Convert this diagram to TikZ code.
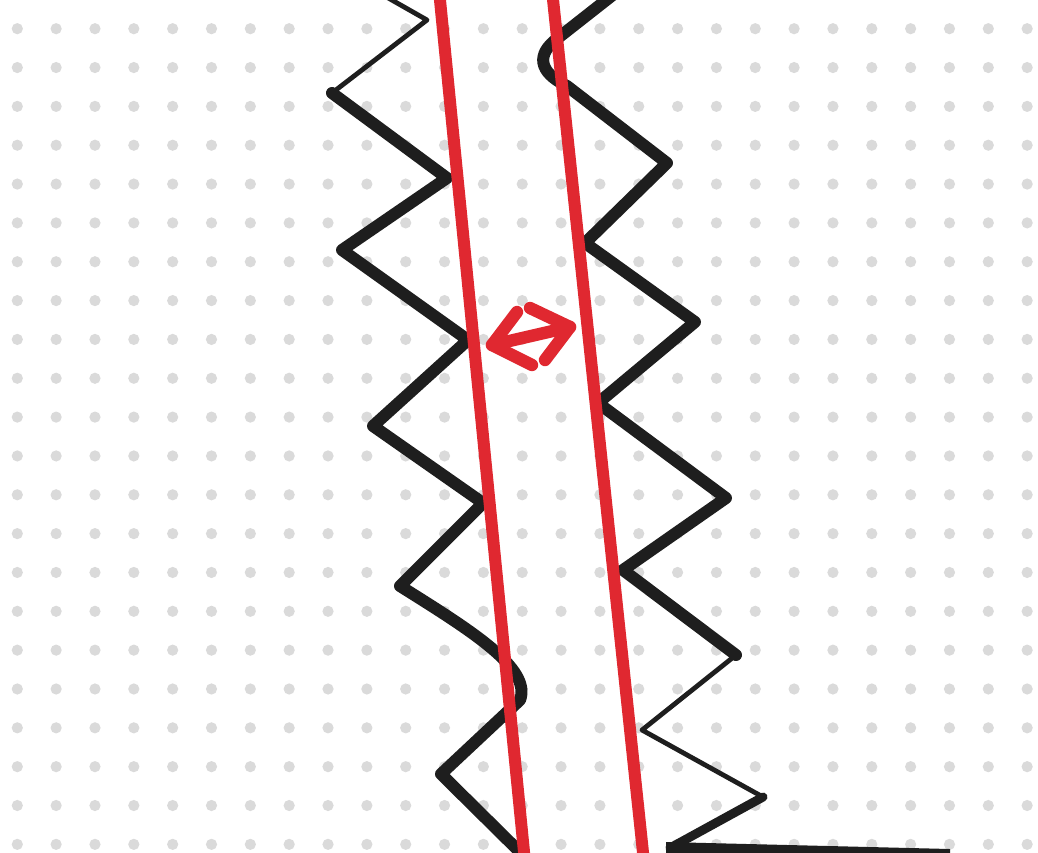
\documentclass[tikz,border=0pt]{standalone}
\usepackage{tikz}

\definecolor{inkblack}{RGB}{30,30,30}
\definecolor{inkred}{RGB}{224,40,48}
\definecolor{dotgray}{RGB}{218,218,218}

\begin{document}
\begin{tikzpicture}[x=0.5pt, y=-0.5pt,
    thickink/.style={inkblack, line width=6pt, line join=round, line cap=round},
    thinink/.style={inkblack, line width=2.4pt, line join=round, line cap=round},
    redline/.style={inkred, line width=6pt},
    redarrow/.style={inkred, line width=6.2pt, line join=round, line cap=round}]
    % 画布
    \useasboundingbox (0,0) rectangle (1038,852);
    \clip (0,0) rectangle (1038,852);
    \fill[white] (0,0) rectangle (1038,852);

    % 点阵背景
    \foreach \i in {0,...,26}
        \foreach \j in {0,...,21}
            \fill[dotgray] ({17.3+38.84*\i},{28.7+38.84*\j}) circle (2.8pt);

    % 左边的锯齿线
    \draw[thinink] (383,-5) -- (427,20) -- (332,93);
    \draw[thickink] (332,93) -- (447,178) -- (342,250) -- (468,340) -- (373,426)
        -- (483,503) -- (400,586) .. controls (470,630) and (532,668) .. (520,700)
        -- (441,774) -- (530,862);

    % 右边的锯齿线
    \draw[thickink] (614,-6) -- (558,38) .. controls (536,54) and (538,72) .. (567,86)
        -- (667,163) -- (585,243) -- (695,322) -- (598,403) -- (726,498)
        -- (623,570) -- (736,655);
    \draw[thinink] (736,655) -- (642,730) -- (763,797);
    \draw[inkblack, line width=4.5pt, line join=round, line cap=round] (763,797) -- (670,848);
    \fill[inkblack] (666,842) -- (950,849) -- (950,858) -- (666,858) -- cycle;

    % 两条红线
    \draw[redline] (439,-10) -- (525,862);
    \draw[redline] (552,-10) -- (644,862);

    % 双向箭头
    \draw[redarrow] (492,345) -- (570,327);
    \draw[redarrow] (517,312) -- (492,345) -- (532,365);
    \draw[redarrow] (530,308) -- (570,327) -- (545,360);
\end{tikzpicture}
\end{document}
